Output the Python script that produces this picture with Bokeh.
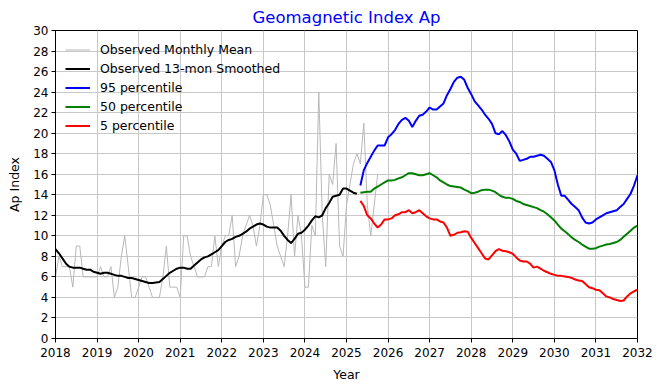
import numpy as np
from bokeh.plotting import figure
from bokeh.models import Range1d, FixedTicker, Legend, LegendItem
from bokeh.embed import file_html
from bokeh.resources import INLINE

# ---------------- data ----------------
start_year = 2018
year_ticks = list(range(2018, 2033))
ap_ticks = list(range(0, 31, 2))

# Observed monthly mean Ap, Jan 2018 onward
observed_monthly = [
    6, 8, 7, 7, 7, 5, 9, 9, 6, 6, 6, 6,          # 2018
    6, 7, 6, 6, 7, 4, 5, 8, 10, 7, 4, 4,         # 2019
    5, 6, 6, 5, 4, 4, 4, 6, 9, 5, 5, 5,          # 2020
    4, 10, 10, 8, 7, 6, 6, 6, 7, 7, 10, 7,       # 2021
    9, 10, 10, 12, 7, 8, 10, 11, 12, 11, 9, 11,  # 2022
    14, 14, 13, 11, 9, 8, 7, 10, 14, 8, 12, 10,  # 2023
    5, 5, 11, 10, 24, 12, 7, 16, 15, 19, 9, 8,   # 2024
    13, 15, 17, 18, 17, 21, 13, 10, 13, 16,      # 2025
]

# Observed 13-month smoothed Ap, Jan 2018 onward
observed_smoothed = [
    8.7, 8.3, 7.8, 7.3, 7.0, 6.9, 6.9, 6.9, 6.8, 6.7, 6.7, 6.5,
    6.4, 6.3, 6.4, 6.4, 6.3, 6.2, 6.1, 6.1, 6.0, 5.9, 5.9, 5.8,
    5.7, 5.6, 5.5, 5.4, 5.4, 5.45, 5.5, 5.8, 6.1, 6.4, 6.6, 6.8,
    6.9, 6.9, 6.8, 6.8, 7.1, 7.4, 7.7, 7.9, 8.0, 8.2, 8.4, 8.6,
    9.0, 9.4, 9.6, 9.7, 9.9, 10.0, 10.2, 10.4, 10.7, 10.9, 11.1, 11.2,
    11.1, 10.9, 10.8, 10.8, 10.8, 10.5, 10.0, 9.6, 9.3, 9.7, 10.2, 10.3,
    10.6, 11.0, 11.5, 11.9, 11.8, 12.0, 12.7, 13.2, 13.8, 13.9, 14.0, 14.6,
    14.6, 14.4, 14.2, 14.1,
]

# Forecast percentiles, starting May 2025 (month index 88) through Jan 2032
forecast_start_month = 88
p95 = [
    14.9, 16.4, 17.1, 17.7, 18.3, 18.8, 18.8, 18.8,
    19.6, 19.9, 20.3, 20.9, 21.3, 21.5, 21.2, 20.6, 21.2, 21.7, 21.8, 22.1,
    22.5, 22.3, 22.3, 22.6, 22.9, 23.7, 24.3, 25.0, 25.4, 25.5, 25.2, 24.4,
    23.8, 23.1, 22.7, 22.3, 21.8, 21.4, 20.9, 20.0, 19.9, 20.2, 19.8, 19.2,
    18.4, 18.0, 17.3, 17.4, 17.5, 17.7, 17.7, 17.8, 17.9, 17.8, 17.5, 17.2,
    16.4, 15.0, 13.9, 13.9, 13.5, 13.1, 12.8, 12.5, 11.8, 11.3, 11.2, 11.3,
    11.6, 11.8, 12.0, 12.2, 12.3, 12.4, 12.5, 12.8, 13.1, 13.6, 14.1, 14.9,
    15.9,
]
p50 = [
    14.2, 14.25, 14.3, 14.3, 14.6, 14.8, 15.0, 15.2,
    15.4, 15.4, 15.45, 15.6, 15.7, 15.9, 16.1, 16.1, 16.0, 15.9, 15.9, 16.0,
    16.1, 15.9, 15.7, 15.4, 15.2, 15.0, 14.85, 14.8, 14.75, 14.7, 14.5, 14.35,
    14.15, 14.2, 14.3, 14.45, 14.5, 14.5, 14.4, 14.25, 14.0, 13.8, 13.7, 13.7,
    13.6, 13.4, 13.3, 13.1, 13.0, 12.9, 12.8, 12.7, 12.5, 12.35, 12.1, 11.8,
    11.5, 11.1, 10.7, 10.45, 10.15, 9.85, 9.6, 9.4, 9.15, 8.95, 8.75, 8.75,
    8.8, 8.95, 9.05, 9.15, 9.2, 9.3, 9.4, 9.6, 9.9, 10.2, 10.5, 10.8,
    11.0,
]
p05 = [
    13.4, 12.9, 12.0, 11.7, 11.2, 10.8, 11.1, 11.6,
    11.6, 11.7, 12.0, 12.1, 12.3, 12.3, 12.5, 12.2, 12.3, 12.5, 12.2, 11.9,
    11.7, 11.6, 11.6, 11.4, 11.3, 10.8, 10.0, 10.1, 10.3, 10.35, 10.45, 10.4,
    9.8, 9.3, 8.8, 8.3, 7.8, 7.7, 8.1, 8.5, 8.7, 8.55, 8.5, 8.4,
    8.25, 7.9, 7.6, 7.5, 7.5, 7.3, 6.9, 7.0, 6.8, 6.6, 6.45, 6.3,
    6.2, 6.1, 6.1, 6.05, 6.0, 5.9, 5.75, 5.65, 5.6, 5.3, 5.0, 4.9,
    4.75, 4.7, 4.4, 4.1, 4.0, 3.85, 3.75, 3.65, 3.7, 4.1, 4.4, 4.6,
    4.75,
]

def month_years(first_month, n):
    return list(start_year + (first_month + np.arange(n)) / 12.0)

x_obs = month_years(0, len(observed_monthly))
x_smo = month_years(0, len(observed_smoothed))
x_fc = month_years(forecast_start_month, len(p95))

# ---------------- figure ----------------
FONT = "DejaVu Sans"
p = figure(
    width=662, height=390,
    output_backend="svg", toolbar_location=None,
    x_range=Range1d(2018, 2032), y_range=Range1d(0, 30),
    min_border_left=55, min_border_right=25,
    min_border_top=30, min_border_bottom=52,
    background_fill_color="white", border_fill_color="white",
)

p.title.text = "Geomagnetic Index Ap"
p.title.text_color = "#0000ff"
p.title.align = "center"
p.title.text_font = FONT
p.title.text_font_size = "16.5px"
p.title.text_font_style = "normal"
p.title.standoff = 7

p.outline_line_color = "black"
p.outline_line_width = 1
p.outline_line_alpha = 1.0

p.xaxis.ticker = FixedTicker(ticks=year_ticks)
p.yaxis.ticker = FixedTicker(ticks=ap_ticks)
p.xaxis.axis_label = "Year"
p.yaxis.axis_label = "Ap Index"
for ax in (p.xaxis, p.yaxis):
    ax.axis_label_text_font = FONT
    ax.axis_label_text_font_size = "12.5px"
    ax.axis_label_text_font_style = "normal"
    ax.axis_label_text_color = "black"
    ax.major_label_text_font = FONT
    ax.major_label_text_font_size = "12px"
    ax.major_label_text_color = "black"
    ax.axis_line_color = "black"
    ax.major_tick_line_color = "black"
    ax.major_tick_out = 4
    ax.major_tick_in = 0
    ax.minor_tick_line_color = None
    ax.major_label_standoff = 3
p.xaxis.major_label_standoff = 5
p.xaxis.axis_label_standoff = 7
p.yaxis.axis_label_standoff = 8

p.grid.grid_line_color = "#c8c8c8"
p.grid.grid_line_width = 1

r_obs = p.line(x_obs, observed_monthly, line_color="#b8b8b8", line_width=1)
r_smo = p.line(x_smo, observed_smoothed, line_color="black", line_width=2)
r95 = p.line(x_fc, p95, line_color="#0000ff", line_width=2)
r50 = p.line(x_fc, p50, line_color="#008000", line_width=2)
r05 = p.line(x_fc, p05, line_color="#ff0000", line_width=2)

legend = Legend(
    items=[
        LegendItem(label="Observed Monthly Mean", renderers=[r_obs]),
        LegendItem(label="Observed 13-mon Smoothed", renderers=[r_smo]),
        LegendItem(label="95 percentile", renderers=[r95]),
        LegendItem(label="50 percentile", renderers=[r50]),
        LegendItem(label="5 percentile", renderers=[r05]),
    ],
    location="top_left",
    margin=1, padding=9,
    spacing=0,
    label_height=19, glyph_height=19, glyph_width=25,
    label_standoff=10,
    label_text_font=FONT, label_text_font_size="12.5px", label_text_color="black",
    background_fill_alpha=0, border_line_alpha=0,
)
p.add_layout(legend)

open("out.html", "w").write(file_html(p, INLINE))
